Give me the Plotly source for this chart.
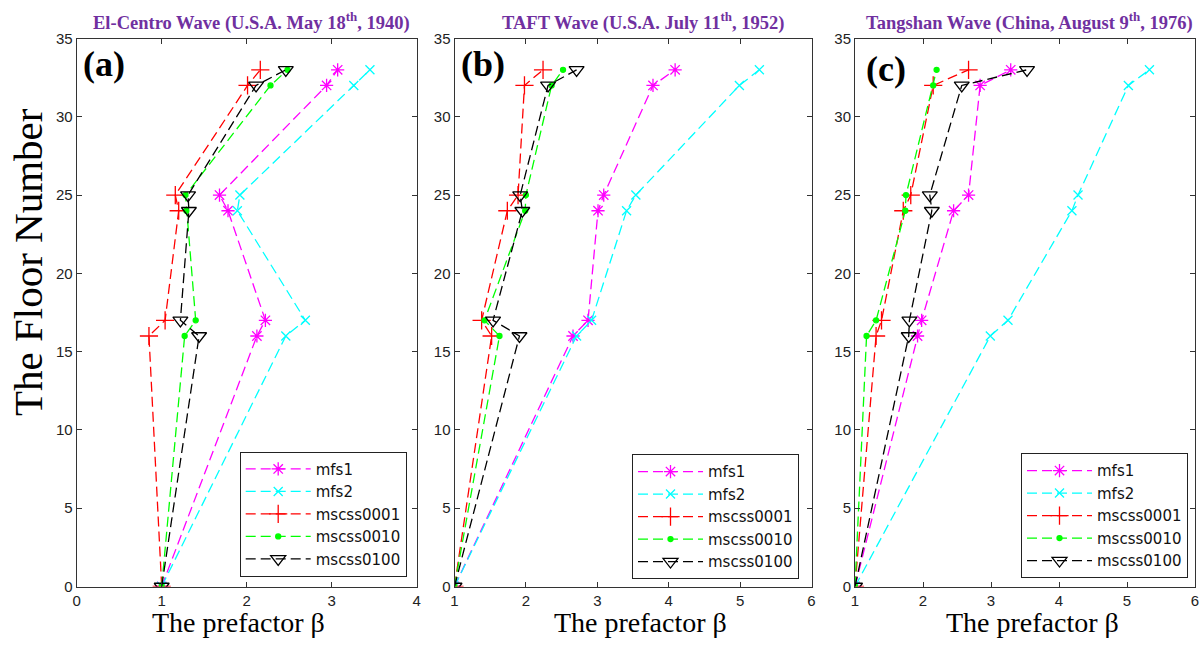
import plotly.graph_objects as go

floors = [0, 16, 17, 24, 25, 32, 33]
series_names = ["mfs1", "mfs2", "mscss0001", "mscss0010", "mscss0100"]

# Panel (a) El-Centro
a_mfs1 = [1.00, 2.12, 2.22, 1.78, 1.68, 2.94, 3.07]
a_mfs2 = [1.00, 2.46, 2.69, 1.89, 1.92, 3.26, 3.45]
a_m0001 = [1.00, 0.85, 1.04, 1.20, 1.16, 2.01, 2.16]
a_m0010 = [1.00, 1.27, 1.40, 1.29, 1.28, 2.28, 2.48]
a_m0100 = [1.00, 1.44, 1.22, 1.32, 1.31, 2.11, 2.46]

# Panel (b) TAFT
b_mfs1 = [1.00, 2.66, 2.87, 3.01, 3.09, 3.78, 4.09]
b_mfs2 = [1.00, 2.71, 2.92, 3.41, 3.54, 4.99, 5.27]
b_m0001 = [1.00, 1.52, 1.38, 1.74, 1.89, 1.98, 2.24]
b_m0010 = [1.00, 1.63, 1.42, 1.99, 2.00, 2.36, 2.52]
b_m0100 = [1.00, 1.91, 1.54, 1.95, 1.92, 2.31, 2.71]

# Panel (c) Tangshan
c_mfs1 = [1.00, 1.92, 1.98, 2.45, 2.67, 2.84, 3.29]
c_mfs2 = [1.00, 2.99, 3.25, 4.19, 4.28, 5.02, 5.33]
c_m0001 = [1.00, 1.31, 1.39, 1.71, 1.82, 2.15, 2.67]
c_m0010 = [1.00, 1.17, 1.31, 1.74, 1.75, 2.15, 2.20]
c_m0100 = [1.00, 1.79, 1.80, 2.13, 2.10, 2.57, 3.53]

panel_titles = [
    "El-Centro Wave (U.S.A. May 18<sup>th</sup>, 1940)",
    "TAFT Wave (U.S.A. July 11<sup>th</sup>, 1952)",
    "Tangshan Wave (China, August 9<sup>th</sup>, 1976)",
]
panel_labels = ["(a)", "(b)", "(c)"]
x_ranges = [[0, 4], [1, 6], [1, 6]]
y_ticks = [0, 5, 10, 15, 20, 25, 30, 35]

panels = [
    [a_mfs1, a_mfs2, a_m0001, a_m0010, a_m0100],
    [b_mfs1, b_mfs2, b_m0001, b_m0010, b_m0100],
    [c_mfs1, c_mfs2, c_m0001, c_m0010, c_m0100],
]

W, H = 1203, 646
OX, OY = 0, 0  # body margin removed via post_script
colors = ["#FF00FF", "#00FFFF", "#FF0000", "#00FF00", "#000000"]
symbols = ["asterisk-open", "x-thin-open", "cross-thin-open", "circle", "triangle-down-open"]
msizes = [11, 9, 13, 5, 13]


def px(x):
    return (x - OX) / W


def py(y):
    return 1 - (y - OY) / H


# pixel layout (page coordinates) of plot areas
x_dom_px = [(76.7, 416.7), (454.5, 811.5), (855, 1195)]
y_dom_px = (38.5, 586.5)
legend_px = [(406.7, 576.7), (799, 579.3), (1188, 578.3)]
title_cx = [251, 643, 1029]
label_px = [(81, 64), (459, 64), (864, 69)]
xtitle_cx = [238, 640, 1032]

fig = go.Figure()
serif = "Liberation Serif, Times New Roman, serif"
sans = "Liberation Sans, Arial, sans-serif"

for p in range(3):
    xa = "x" if p == 0 else f"x{p+1}"
    ya = "y" if p == 0 else f"y{p+1}"
    lg = "legend" if p == 0 else f"legend{p+1}"
    for s in range(5):
        fig.add_trace(go.Scatter(
            x=panels[p][s], y=floors, mode="lines+markers", name=series_names[s],
            xaxis=xa, yaxis=ya, legend=lg,
            line=dict(color=colors[s], width=1.3, dash="10px,5px"),
            marker=dict(symbol=symbols[s], size=msizes[s], color=colors[s],
                        line=dict(color=colors[s], width=1.3)),
        ))

    dom_x = [px(x_dom_px[p][0]), px(x_dom_px[p][1])]
    dom_y = [py(y_dom_px[1]), py(y_dom_px[0])]
    axis_common = dict(showline=True, linecolor="#333333", linewidth=1, mirror="allticks",
                       ticks="inside", ticklen=5, tickcolor="#333333", showgrid=False,
                       zeroline=False, automargin=False,
                       tickfont=dict(family=sans, size=15, color="#222222"))
    fig.layout[("xaxis" if p == 0 else f"xaxis{p+1}")] = dict(
        domain=dom_x, range=x_ranges[p], dtick=1, anchor=ya, **axis_common)
    fig.layout[("yaxis" if p == 0 else f"yaxis{p+1}")] = dict(
        domain=dom_y, range=[0, 35], tickvals=y_ticks, anchor=xa, **axis_common)
    fig.layout[lg] = dict(
        x=px(legend_px[p][0]), y=py(legend_px[p][1]), xanchor="right", yanchor="bottom",
        bgcolor="white", bordercolor="#222222", borderwidth=1,
        font=dict(family="DejaVu Sans, sans-serif", size=15, color="#111111"),
        itemwidth=65, tracegroupgap=0,
    )
    fig.add_annotation(text=f"<b>{panel_titles[p]}</b>", xref="paper", yref="paper",
                       x=px(title_cx[p]), y=py(21), xanchor="center", yanchor="middle",
                       showarrow=False, font=dict(family=serif, size=18.5, color="#7030A0"))
    fig.add_annotation(text=f"<b>{panel_labels[p]}</b>", xref="paper", yref="paper",
                       x=px(label_px[p][0]), y=py(label_px[p][1]), xanchor="left",
                       yanchor="middle", showarrow=False,
                       font=dict(family=serif, size=36, color="#000000"))
    fig.add_annotation(text="The prefactor β", xref="paper", yref="paper",
                       x=px(xtitle_cx[p]), y=py(622), xanchor="center", yanchor="middle",
                       showarrow=False, font=dict(family=serif, size=28, color="#000000"))

fig.add_annotation(text="The Floor Number", xref="paper", yref="paper",
                   x=px(28), y=py(262), xanchor="center", yanchor="middle",
                   textangle=-90, showarrow=False,
                   font=dict(family=serif, size=41, color="#000000"))

fig.update_layout(width=W, height=H, margin=dict(l=0, r=0, t=0, b=0),
                  plot_bgcolor="white", paper_bgcolor="white", showlegend=True)

fig.write_html("out.html", config={"displayModeBar": False},
               post_script="document.body.style.margin='0';document.body.style.overflow='hidden';")
